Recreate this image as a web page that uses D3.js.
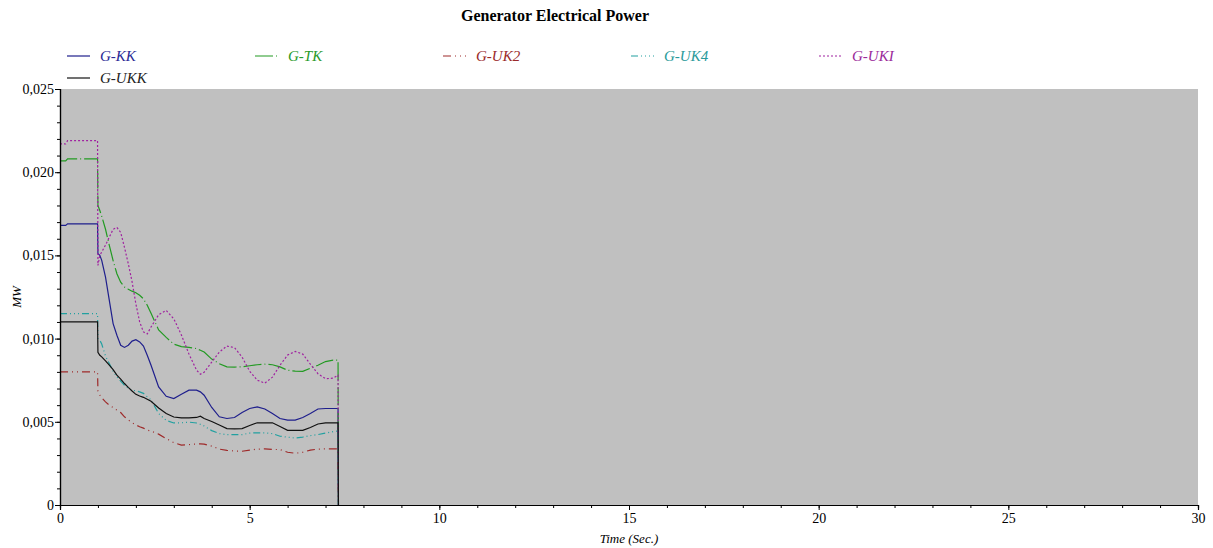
<!DOCTYPE html>
<html>
<head>
<meta charset="utf-8">
<script src="https://cdn.jsdelivr.net/npm/d3@7/dist/d3.min.js"></script>
<style>
  html, body { margin: 0; padding: 0; background: #fff; }
  svg { display: block; }
  text { font-family: "Liberation Serif", "Times New Roman", serif; }
</style>
</head>
<body>
<svg id="chart" width="1213" height="548"></svg>
<script>
// Sample times (s), shared by every generator trace
const time = [0, 0.15, 0.2, 0.99, 1.0, 1.05, 1.1, 1.2, 1.3, 1.4, 1.5, 1.6, 1.7, 1.8, 1.9, 2.0, 2.1, 2.2, 2.3, 2.4,
  2.6, 2.8, 3.0, 3.2, 3.4, 3.6, 3.7, 3.8, 4.0, 4.2, 4.4, 4.6, 4.8, 5.0, 5.2, 5.4, 5.6, 5.8, 6.0, 6.2,
  6.4, 6.6, 6.8, 7.0, 7.2, 7.33, 7.34];

// Electrical power per generator (MW)
const gKK = [0.0168, 0.0168, 0.0169, 0.0169, 0.0151, 0.0150, 0.0147, 0.0137, 0.0123, 0.0109, 0.0102, 0.0096, 0.00947, 0.0096, 0.00985, 0.00993, 0.0098, 0.00955, 0.0090, 0.0084,
  0.0071, 0.00653, 0.0064, 0.00665, 0.0069, 0.0069, 0.0068, 0.0066, 0.00586, 0.0053, 0.0052, 0.00526, 0.00556, 0.0058, 0.0059, 0.00577, 0.0055, 0.0052, 0.0051, 0.0051,
  0.00526, 0.0055, 0.00577, 0.0058, 0.0058, 0.0058, 0];
const gTK = [0.02068, 0.02068, 0.0208, 0.0208, 0.0180, 0.0177, 0.01735, 0.01657, 0.0156, 0.01469, 0.0139, 0.01339, 0.0131, 0.01297, 0.01285, 0.01276, 0.0126, 0.01239, 0.0120, 0.01152,
  0.01052, 0.01007, 0.00967, 0.00952, 0.00947, 0.0094, 0.0093, 0.00919, 0.00877, 0.00849, 0.0083, 0.00829, 0.0083, 0.00837, 0.00843, 0.00846, 0.00843, 0.0083, 0.0081, 0.00804,
  0.00803, 0.00822, 0.0084, 0.00862, 0.00871, 0.0087, 0];
const gUK2 = [0.0080, 0.0080, 0.0080, 0.0080, 0.00685, 0.0066, 0.00644, 0.0062, 0.0060, 0.00586, 0.0057, 0.00556, 0.0053, 0.00511, 0.00495, 0.00481, 0.0047, 0.00462, 0.0045, 0.00444,
  0.00426, 0.00399, 0.00375, 0.0036, 0.00363, 0.00367, 0.00367, 0.00366, 0.00354, 0.00336, 0.00328, 0.00325, 0.00323, 0.0033, 0.00336, 0.00337, 0.00334, 0.00333, 0.00317, 0.00311,
  0.00317, 0.0033, 0.00336, 0.00337, 0.00337, 0.00337, 0];
const gUK4 = [0.0115, 0.0115, 0.0115, 0.0115, 0.0100, 0.0099, 0.00967, 0.00895, 0.0085, 0.00804, 0.0077, 0.00744, 0.0072, 0.00701, 0.0069, 0.00686, 0.0068, 0.00671, 0.0065, 0.00632,
  0.0055, 0.00508, 0.00493, 0.00494, 0.00498, 0.00493, 0.00485, 0.00475, 0.00447, 0.00429, 0.00423, 0.00423, 0.00423, 0.00432, 0.00434, 0.00434, 0.00429, 0.00413, 0.00408, 0.00402,
  0.00408, 0.00417, 0.00423, 0.00432, 0.00441, 0.00445, 0];
const gUKI = [0.0217, 0.0217, 0.0219, 0.0219, 0.0144, 0.0150, 0.0152, 0.01562, 0.0161, 0.01657, 0.01668, 0.01638, 0.01548, 0.0145, 0.01342, 0.01209, 0.0110, 0.0104, 0.01028, 0.0107,
  0.01143, 0.01169, 0.01119, 0.01022, 0.00907, 0.0081, 0.00786, 0.00798, 0.00859, 0.00919, 0.00955, 0.00946, 0.00889, 0.00804, 0.0075, 0.00732, 0.00768, 0.0084, 0.00901, 0.00923,
  0.00907, 0.00846, 0.00789, 0.00759, 0.00762, 0.0078, 0];
const gUKK = [0.0110, 0.0110, 0.0110, 0.0110, 0.00917, 0.0090, 0.0089, 0.00866, 0.0084, 0.00813, 0.0078, 0.00756, 0.0073, 0.00707, 0.00685, 0.00665, 0.00655, 0.00647, 0.00635, 0.00623,
  0.00583, 0.0055, 0.00529, 0.00524, 0.00524, 0.00526, 0.00534, 0.0052, 0.00502, 0.00481, 0.00459, 0.00458, 0.00459, 0.00478, 0.00494, 0.00494, 0.00494, 0.00472, 0.00449, 0.00449,
  0.00449, 0.00466, 0.00487, 0.00494, 0.00494, 0.00494, 0];

const seriesNames = ["G-KK", "G-TK", "G-UK2", "G-UK4", "G-UKI", "G-UKK"];
const seriesValues = [gKK, gTK, gUK2, gUK4, gUKI, gUKK];

// Axis ticks
const xTicks = [0, 5, 10, 15, 20, 25, 30];
const yTicks = [0, 0.005, 0.010, 0.015, 0.020, 0.025];

// Styling per trace
const colors = ["#1e1e8c", "#229a22", "#9e2a2a", "#22a0a0", "#a022a0", "#111111"];
const textColors = ["#2a2a96", "#2a9a2a", "#9a2a2a", "#2a9a9a", "#9a2a9a", "#222222"];
const dashes = [null, "18,3,1,3", "8,4,1,4,1,4", "7,3,1,3,1,3,1,3", "2,2", null];

const svg = d3.select("#chart");
const plotLeft = 60, plotRight = 1198, plotTop = 89, plotBottom = 505;

const x = d3.scaleLinear().domain([0, 30]).range([plotLeft, plotRight]);
const y = d3.scaleLinear().domain([0, 0.025]).range([plotBottom, plotTop]);

// Plot background
svg.append("rect")
  .attr("x", plotLeft).attr("y", plotTop)
  .attr("width", plotRight - plotLeft).attr("height", plotBottom - plotTop)
  .attr("fill", "#c0c0c0");

// Traces
const line = d3.line().x((d, i) => x(time[i])).y(d => y(d));
const plot = svg.append("g");
seriesValues.forEach((vals, k) => {
  plot.append("path")
    .datum(vals)
    .attr("d", line)
    .attr("fill", "none")
    .attr("stroke", colors[k])
    .attr("stroke-width", 1.2)
    .attr("stroke-dasharray", dashes[k]);
});

// Axes
const fmtY = d => d === 0 ? "0" : d3.format(".3f")(d).replace(".", ",");

const yMinor = d3.axisLeft(y).tickValues(d3.range(0, 26).map(i => i * 0.001)).tickSize(3).tickFormat("");
const yMajor = d3.axisLeft(y).tickValues(yTicks).tickSize(5).tickFormat(fmtY);
const xMinor = d3.axisBottom(x).tickValues(d3.range(0, 31)).tickSize(3).tickFormat("");
const xMajor = d3.axisBottom(x).tickValues(xTicks).tickSize(5).tickFormat(d3.format("d"));

function styleAxis(g) {
  g.select(".domain").attr("stroke", "#000").attr("stroke-width", 1.2);
  g.selectAll(".tick line").attr("stroke", "#000");
  g.selectAll("text").attr("fill", "#000").style("font-size", "14px")
    .style("font-family", "'Liberation Serif', serif");
}

svg.append("g").attr("transform", `translate(${plotLeft},0)`).call(yMinor).call(styleAxis);
svg.append("g").attr("transform", `translate(${plotLeft},0)`).call(yMajor).call(styleAxis)
  .selectAll("text").attr("x", -6);
svg.append("g").attr("transform", `translate(0,${plotBottom})`).call(xMinor).call(styleAxis);
svg.append("g").attr("transform", `translate(0,${plotBottom})`).call(xMajor).call(styleAxis)
  .selectAll("text").attr("y", 8);

// Title and axis labels
svg.append("text")
  .attr("x", 555).attr("y", 21)
  .attr("text-anchor", "middle")
  .style("font-size", "16px").style("font-weight", "bold")
  .text("Generator Electrical Power");

svg.append("text")
  .attr("x", (plotLeft + plotRight) / 2).attr("y", 543)
  .attr("text-anchor", "middle")
  .style("font-size", "13px").style("font-style", "italic")
  .text("Time (Sec.)");

svg.append("text")
  .attr("transform", `translate(21,${(plotTop + plotBottom) / 2}) rotate(-90)`)
  .attr("text-anchor", "middle")
  .style("font-size", "13px").style("font-style", "italic")
  .text("MW");

// Legend: five entries per row
const legend = svg.append("g");
seriesNames.forEach((name, k) => {
  const col = k % 5, row = Math.floor(k / 5);
  const lx = 67 + col * 188, ly = 56 + row * 22;
  legend.append("line")
    .attr("x1", lx).attr("x2", lx + 23)
    .attr("y1", ly).attr("y2", ly)
    .attr("stroke", colors[k]).attr("stroke-width", 1.2)
    .attr("stroke-dasharray", dashes[k]);
  legend.append("text")
    .attr("x", lx + 33).attr("y", ly + 5)
    .attr("fill", textColors[k])
    .style("font-size", "15px").style("font-style", "italic")
    .text(name);
});
</script>
</body>
</html>
